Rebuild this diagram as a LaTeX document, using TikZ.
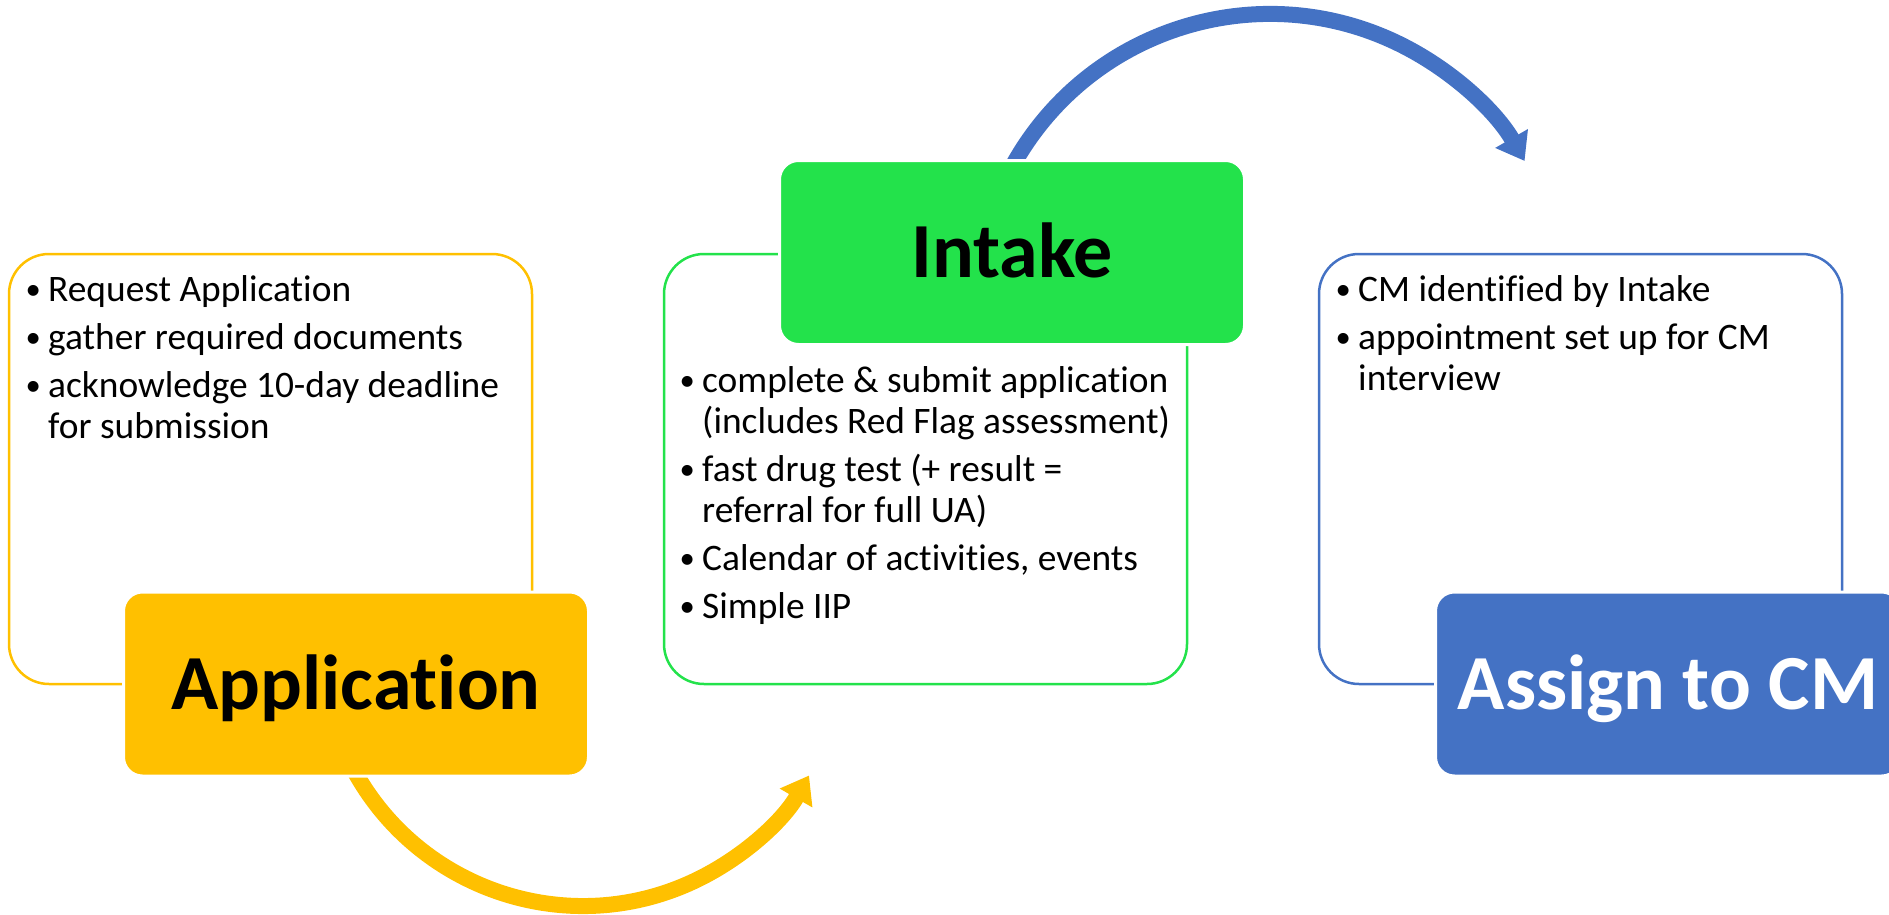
\documentclass[tikz,border=0pt]{standalone}
\usepackage{fontspec}
\setmainfont{Carlito}[Ligatures={NoCommon,NoContextual},Contextuals=NoAlternate]
\usetikzlibrary{arrows.meta}
\definecolor{cyel}{HTML}{FFC000}
\definecolor{cgrn}{HTML}{23E24B}
\definecolor{cblu}{HTML}{4472C4}
\newcommand\bulx{\makebox[23pt][l]{\hspace{0.5pt}\raisebox{1.5pt}{\scalebox{0.82}{•}}}}
\newcommand\contx{\hspace*{23pt}}
\newcommand\nolx{\kern0pt}
\begin{document}
\begin{tikzpicture}[x=1pt,y=1pt,
  outline/.style={draw=#1, line width=2.5pt, rounded corners=40pt, minimum width=523pt, minimum height=430pt, inner sep=0pt},
  headbox/.style={fill=#1, draw=white, line width=3pt, rounded corners=19pt, minimum width=465pt, minimum height=184pt, inner sep=0pt, text height=50pt, text depth=0pt, font=\fontsize{78}{80}\selectfont\bfseries},
  bodytext/.style={anchor=base west, inner sep=0pt, font=\fontsize{37.4}{41}\selectfont},
  flow/.style={line width=16pt, -{Triangle[length=26pt,width=36pt]}}
]
\useasboundingbox (0,0) rectangle (1889,-915);
% outline boxes
\node[outline=cyel] (yout) at (270.5,-469) {};
\node[outline=cgrn] (gout) at (925.5,-469) {};
\node[outline=cblu] (bout) at (1580.5,-469) {};
% arcs
\coordinate (ys) at (348.4,-759.4);
\draw[flow, cyel] (ys) arc[start angle=206, end angle=330, radius=261pt];
\coordinate (bs) at (1008,-174.5);
\draw[flow, cblu] (bs) arc[start angle=153, end angle=30, radius=294pt];
% head boxes
\node[headbox=cyel, text=black] (app) at (356,-684) {Applicat\nolx ion};
\node[headbox=cgrn, text=black] (intake) at (1012,-252.5) {Intake};
\node[headbox=cblu, text=white] (assign) at (1668,-684) {Assign to CM};
% body texts
\node[bodytext] (ytext) at (25,-301) {\begin{tabular}[t]{@{}l@{}}
\bulx Request Applicat\nolx ion\\[7pt]
\bulx gather required documents\\[7pt]
\bulx acknowledge 10-day deadline\\
\contx for submission
\end{tabular}};
\node[bodytext] (gtext) at (679,-392) {\begin{tabular}[t]{@{}l@{}}
\bulx complete \& submit applicat\nolx ion\\
\contx (includes Red Flag assessment)\\[7pt]
\bulx fast drug test (+ result =\\
\contx referral for full UA)\\[7pt]
\bulx Calendar of act\nolx ivit\nolx ies, events\\[7pt]
\bulx Simple IIP
\end{tabular}};
\node[bodytext] (btext) at (1335,-301) {\begin{tabular}[t]{@{}l@{}}
\bulx CM identif\nolx ied by Intake\\[7pt]
\bulx appointment set up for CM\\
\contx interview
\end{tabular}};
\end{tikzpicture}
\end{document}
